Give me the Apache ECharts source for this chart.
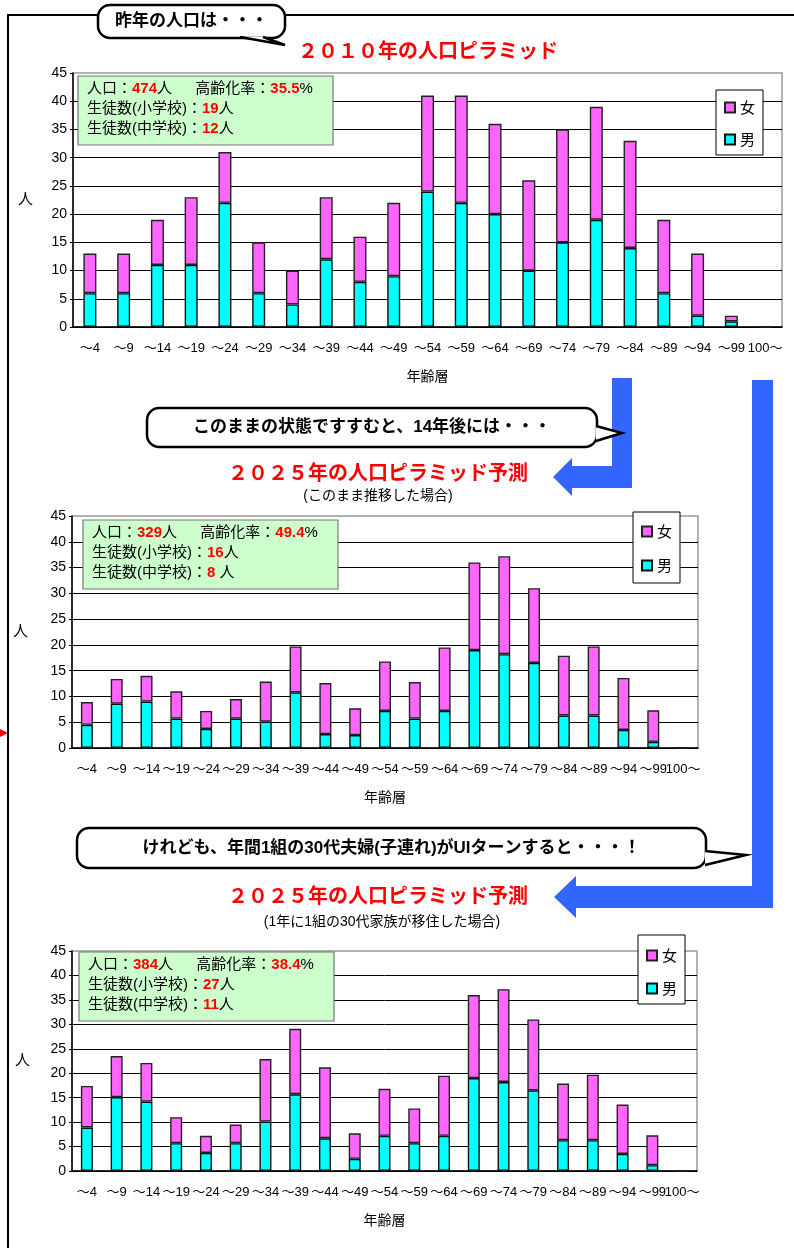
<!DOCTYPE html>
<html>
<head>
<meta charset="utf-8">
<title>人口ピラミッド</title>
<script src="https://cdn.jsdelivr.net/npm/echarts@6/dist/echarts.min.js"></script>
<style>
  html, body { margin: 0; padding: 0; background: #fff; }
  #chart { width: 794px; height: 1248px; }
</style>
</head>
<body>
<div id="chart"></div>
<script>
// 年齢層
const ages = ['～4', '～9', '～14', '～19', '～24', '～29', '～34', '～39', '～44', '～49', '～54',
  '～59', '～64', '～69', '～74', '～79', '～84', '～89', '～94', '～99', '100～'];
const yTicks = [0, 45, 5]; // min, max, interval

// 2010年
const male2010 = [6, 6, 11, 11, 22, 6, 4, 12, 8, 9, 24, 22, 20, 10, 15, 19, 14, 6, 2, 1, 0];
const female2010 = [7, 7, 8, 12, 9, 9, 6, 11, 8, 13, 17, 19, 16, 16, 20, 20, 19, 13, 11, 1, 0];
// 2025年（このまま推移した場合）
const male2025 = [4.5, 8.6, 9.0, 5.7, 3.7, 5.7, 5.1, 10.8, 2.7, 2.5, 7.2, 5.7, 7.2, 19.0, 18.2, 16.5, 6.3, 6.3, 3.5, 1.2, 0];
const female2025 = [4.4, 4.8, 5.0, 5.3, 3.5, 3.8, 7.8, 8.9, 9.9, 5.2, 9.6, 7.1, 12.3, 17.0, 19.0, 14.5, 11.6, 13.4, 10.1, 6.1, 0];
// 2025年（1年に1組の30代家族が移住した場合）
const male2025ui = [8.9, 15.1, 14.2, 5.7, 3.7, 5.7, 10.1, 15.7, 6.7, 2.5, 7.2, 5.7, 7.2, 19.0, 18.2, 16.5, 6.3, 6.3, 3.5, 1.2, 0];
const female2025ui = [8.5, 8.4, 7.9, 5.3, 3.5, 3.8, 12.8, 13.4, 14.5, 5.2, 9.6, 7.1, 12.3, 17.0, 19.0, 14.5, 11.6, 13.4, 10.1, 6.1, 0];

// 人口, 高齢化率, 小学校, 中学校
const info2010 = ['474', '35.5', '19', '12'];
const info2025 = ['329', '49.4', '16', '8 '];
const info2025ui = ['384', '38.4', '27', '11'];

const FONT = "'Liberation Sans', 'Noto Sans CJK JP', sans-serif";
const JP = "'Noto Sans CJK JP', sans-serif";

const chart = echarts.init(document.getElementById('chart'));

// 3つのグラフの位置
const grids = [
  { left: 73, right: 12, top: 73, height: 254 },
  { left: 72, right: 96, top: 516, height: 232 },
  { left: 72, right: 97, top: 951, height: 220 }
];
const nameGapsY = [40, 44, 42];
const barWidths = [13, 12, 12];
const legendPos = [
  { left: 716, top: 90, itemGap: 17, padding: [10, 8, 8, 8] },
  { left: 633, top: 512, itemGap: 19, padding: [12, 8, 10, 8] },
  { left: 638, top: 935, itemGap: 18, padding: [13, 8, 8, 8] }
];
const maleData = [male2010, male2025, male2025ui];
const femaleData = [female2010, female2025, female2025ui];

const xAxis = grids.map((g, i) => ({
  type: 'category',
  gridIndex: i,
  data: ages,
  name: '年齢層',
  nameLocation: 'middle',
  nameGap: 43,
  nameTextStyle: { fontSize: 14, color: '#000', fontFamily: FONT },
  axisLine: { lineStyle: { color: '#000', width: 1.5 } },
  axisTick: { inside: true, length: 4, lineStyle: { color: '#000' } },
  axisLabel: { interval: 0, fontSize: 13, color: '#000', margin: 15, fontFamily: FONT }
}));

const yAxis = grids.map((g, i) => ({
  type: 'value',
  gridIndex: i,
  min: yTicks[0],
  max: yTicks[1],
  interval: yTicks[2],
  name: '人',
  nameLocation: 'middle',
  nameRotate: 0,
  nameGap: nameGapsY[i],
  nameTextStyle: { fontSize: 15, color: '#000', fontFamily: FONT },
  axisLine: { show: true, lineStyle: { color: '#000', width: 1.5 } },
  axisTick: { show: true, length: 3, lineStyle: { color: '#000' } },
  axisLabel: { fontSize: 14, color: '#000', margin: 6, fontFamily: FONT },
  splitLine: { show: true, showMaxLine: false, lineStyle: { color: '#000', width: 1 } }
}));

const series = [];
grids.forEach((g, i) => {
  series.push({
    name: '男', type: 'bar', stack: 's' + i, xAxisIndex: i, yAxisIndex: i,
    barWidth: barWidths[i], data: maleData[i],
    itemStyle: { color: '#00ffff', borderColor: '#111', borderWidth: 1.4 }
  });
  series.push({
    name: '女', type: 'bar', stack: 's' + i, xAxisIndex: i, yAxisIndex: i,
    barWidth: barWidths[i], data: femaleData[i],
    itemStyle: { color: '#ff66ff', borderColor: '#222', borderWidth: 1.4 }
  });
});

const legend = legendPos.map(p => ({
  orient: 'vertical',
  left: p.left, top: p.top,
  data: ['女', '男'],
  selectedMode: false,
  backgroundColor: '#fff',
  borderColor: '#000', borderWidth: 1,
  padding: p.padding,
  itemGap: p.itemGap,
  itemWidth: 10, itemHeight: 10,
  icon: 'rect',
  textStyle: { fontSize: 15, color: '#000', fontFamily: JP }
}));

// 吹き出し
function bubble(x, y, w, h, tail, text, z) {
  return [
    { type: 'rect', z: z, shape: { x: x, y: y, width: w, height: h, r: 12 },
      style: { fill: '#fff', stroke: '#000', lineWidth: 2.5 } },
    { type: 'polygon', z: z + 1, shape: { points: tail },
      style: { fill: '#fff' } },
    { type: 'polyline', z: z + 2, shape: { points: tail },
      style: { stroke: '#000', lineWidth: 2.5, fill: null } },
    { type: 'text', z: z + 3, x: x + w / 2, y: y + h / 2,
      style: { text: text, fill: '#000', fontSize: 17, fontWeight: 'bold', fontFamily: FONT,
        align: 'center', verticalAlign: 'middle' } }
  ];
}

// 緑の情報ボックス
function infoBox(x, y, w, h, v) {
  const rich = {
    n: { fontSize: 15, fill: '#000', lineHeight: 20, fontFamily: FONT },
    r: { fontSize: 15, fill: '#ff0000', fontWeight: 'bold', lineHeight: 20, fontFamily: FONT }
  };
  const text = '{n|人口：}{r|' + v[0] + '}{n|人　  高齢化率：}{r|' + v[1] + '}{n|%}\n' +
    '{n|生徒数(小学校)：}{r|' + v[2] + '}{n|人}\n' +
    '{n|生徒数(中学校)：}{r|' + v[3] + '}{n|人}';
  return [
    { type: 'rect', z: 50, shape: { x: x, y: y, width: w, height: h },
      style: { fill: '#ccffcc', stroke: '#777', lineWidth: 1.2 } },
    { type: 'text', z: 51, x: x + 9, y: y + 3,
      style: { text: text, rich: rich, fill: '#000', align: 'left', verticalAlign: 'top' } }
  ];
}

function title(x, y, text, size, color, weight) {
  return { type: 'text', z: 60, x: x, y: y,
    style: { text: text, fill: color, fontSize: size, fontWeight: weight, fontFamily: FONT,
      align: 'center', verticalAlign: 'middle' } };
}

const blue = '#3366ff';
const graphic = [].concat(
  // 外枠
  [{ type: 'polyline', z: 5, shape: { points: [[794, 15], [8, 15], [8, 1248]] },
    style: { stroke: '#000', lineWidth: 2, fill: null } },
   { type: 'polygon', z: 5, shape: { points: [[0, 729], [8, 733], [0, 737]] },
    style: { fill: '#ff0000' } }],
  bubble(98, 5, 187, 33, [[240, 37], [285, 45], [263, 37]], '昨年の人口は・・・', 20),
  [title(428, 52, '２０１０年の人口ピラミッド', 20, '#ff0000', 'bold')],
  // 矢印
  [{ type: 'polygon', z: 10, shape: { points: [[612, 378], [632, 378], [632, 488], [572, 488], [572, 496],
      [553, 477], [572, 458], [572, 466], [612, 466]] }, style: { fill: blue } },
   { type: 'polygon', z: 10, shape: { points: [[752, 380], [773, 380], [773, 908], [576, 908], [576, 918],
      [554, 897], [576, 876], [576, 886], [752, 886]] }, style: { fill: blue } }],
  bubble(147, 408, 450, 39, [[596, 426], [622, 433], [596, 441]], 'このままの状態ですすむと、14年後には・・・', 20),
  [title(378, 474, '２０２５年の人口ピラミッド予測', 20, '#ff0000', 'bold'),
   title(378, 496, '(このまま推移した場合)', 14, '#000', 'normal')],
  bubble(77, 828, 629, 40, [[705, 851], [746, 855], [705, 865]], 'けれども、年間1組の30代夫婦(子連れ)がUIターンすると・・・！', 20),
  [title(378, 897, '２０２５年の人口ピラミッド予測', 20, '#ff0000', 'bold'),
   title(382, 922, '(1年に1組の30代家族が移住した場合)', 14, '#000', 'normal')],
  infoBox(78, 76, 255, 69, info2010),
  infoBox(83, 520, 255, 69, info2025),
  infoBox(79, 952, 255, 69, info2025ui)
);

chart.setOption({
  animation: false,
  grid: grids.map(g => Object.assign({ show: true, borderColor: '#999', borderWidth: 1.5, backgroundColor: 'transparent' }, g)),
  xAxis: xAxis,
  yAxis: yAxis,
  legend: legend,
  series: series,
  graphic: graphic
});
</script>
</body>
</html>
